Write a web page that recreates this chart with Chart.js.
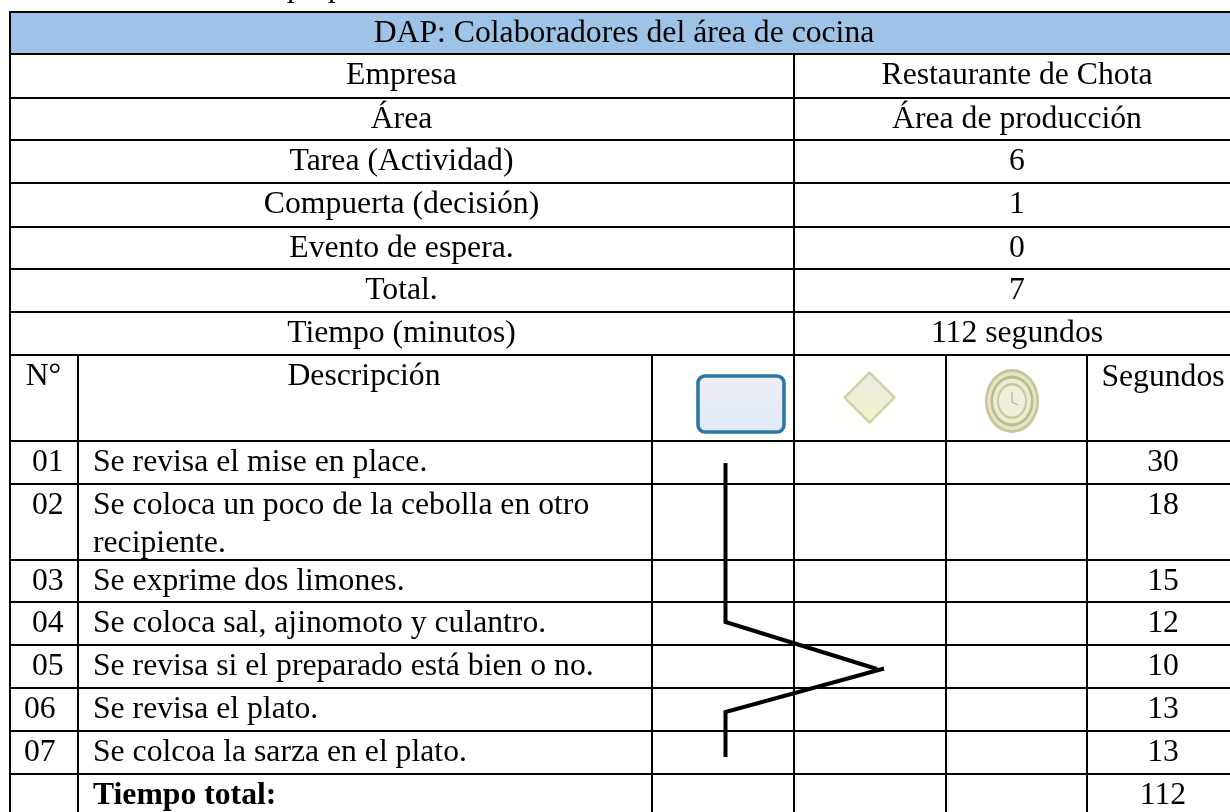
<!DOCTYPE html>
<html>
<head>
<meta charset="utf-8">
<style>
  html, body { margin: 0; padding: 0; background: #fff; overflow: hidden; }
  #wrap { width: 1230px; height: 812px; }
</style>
</head>
<body>
<div id="wrap"><canvas id="dapChart" width="1230" height="812"></canvas></div>
<script src="https://cdn.jsdelivr.net/npm/chart.js@4/dist/chart.umd.min.js"></script>
<script>
// data
const tableTitle = "DAP: Colaboradores del área de cocina";
const summaryLabels = ["Empresa", "Área", "Tarea (Actividad)", "Compuerta (decisión)", "Evento de espera.", "Total.", "Tiempo (minutos)"];
const summaryValues = ["Restaurante de Chota", "Área de producción", "6", "1", "0", "7", "112 segundos"];
const stepNumbers = ["01", "02", "03", "04", "05", "06", "07"];
const stepTexts = [
  ["Se revisa el mise en place."],
  ["Se coloca un poco de la cebolla en otro", "recipiente."],
  ["Se exprime dos limones."],
  ["Se coloca sal, ajinomoto y culantro."],
  ["Se revisa si el preparado está bien o no."],
  ["Se revisa el plato."],
  ["Se colcoa la sarza en el plato."]
];
const stepSeconds = ["30", "18", "15", "12", "10", "13", "13"];
const totalLabel = "Tiempo total:";
const totalSeconds = "112";

// flow line, in the same units as the axes
const flowUpperX = [725.5, 725.5, 877];
const flowUpperY = [463, 622, 669];
const flowLowerX = [884, 725.5, 725.5];
const flowLowerY = [668.5, 712, 757];

// table layout, the right side of the table runs past the page
const colEdges = [10, 78, 652, 794, 946, 1087, 1240];
const rowEdges = [12, 54, 98, 140, 183, 227, 269, 312, 355, 441, 484, 560, 602, 645, 688, 731, 774];
const fontSize = 31.7;
const fontName = "'Liberation Serif', serif";

function makeIcon(w, h, draw) {
  const c = document.createElement("canvas");
  c.width = w;
  c.height = h;
  const g = c.getContext("2d");
  g.filter = "blur(0.7px)";
  draw(g, w, h);
  return c;
}

const taskIcon = makeIcon(96, 70, function (g, w, h) {
  const grad = g.createLinearGradient(0, 0, 0, h);
  grad.addColorStop(0, "#eeeff3");
  grad.addColorStop(1, "#dfe9f8");
  g.fillStyle = grad;
  g.strokeStyle = "#2f76a8";
  g.lineWidth = 3.6;
  g.beginPath();
  g.roundRect(5, 7, w - 10, h - 14, 7);
  g.fill();
  g.stroke();
});

const gatewayIcon = makeIcon(80, 70, function (g, w, h) {
  g.fillStyle = "#fffffb";
  g.fillRect(4, 4, w - 14, h - 8);
  const grad = g.createLinearGradient(0, 10, 0, h - 10);
  grad.addColorStop(0, "#ecebe6");
  grad.addColorStop(1, "#f4f4cc");
  g.fillStyle = grad;
  g.strokeStyle = "#c8c8a0";
  g.lineWidth = 2;
  g.beginPath();
  g.moveTo(w / 2, h / 2 - 25);
  g.lineTo(w / 2 + 25, h / 2);
  g.lineTo(w / 2, h / 2 + 25);
  g.lineTo(w / 2 - 25, h / 2);
  g.closePath();
  g.fill();
  g.stroke();
});

const eventIcon = makeIcon(64, 72, function (g, w, h) {
  g.translate(w / 2, h / 2);
  const rings = [
    [27, 32, "#c6c49a"],
    [24.5, 29, "#e6e5c4"],
    [21.5, 25.5, "#bcbb8f"],
    [19, 22.5, "#ebebcf"],
    [15, 18, "#c9c8a0"],
    [13, 15.5, "#efefdc"]
  ];
  rings.forEach(function (ring) {
    g.fillStyle = ring[2];
    g.beginPath();
    g.ellipse(0, 0, ring[0], ring[1], 0, 0, Math.PI * 2);
    g.fill();
  });
  g.strokeStyle = "#a9a884";
  g.lineWidth = 1;
  g.beginPath();
  g.moveTo(0, -9);
  g.lineTo(0, 1);
  g.lineTo(6, 4);
  g.stroke();
});

// the table itself: grid and text, under the flow line
const tablePlugin = {
  id: "tablePlugin",
  beforeDatasetsDraw(chart) {
    const { ctx, scales } = chart;
    const X = (v) => scales.x.getPixelForValue(v);
    const Y = (v) => scales.y.getPixelForValue(v);
    const r = rowEdges;
    const c = colEdges;

    ctx.save();
    ctx.fillStyle = "#9dc3e6";
    ctx.fillRect(X(c[0]), Y(r[0]), X(c[6]) - X(c[0]), Y(r[1]) - Y(r[0]));

    // horizontal lines
    ctx.strokeStyle = "#000";
    ctx.lineWidth = 2;
    ctx.beginPath();
    r.forEach(function (v) {
      ctx.moveTo(X(c[0]) - 1, Y(v));
      ctx.lineTo(X(c[6]), Y(v));
    });
    // left side
    ctx.moveTo(X(c[0]), Y(r[0]));
    ctx.lineTo(X(c[0]), Y(812));
    // summary divider
    ctx.moveTo(X(c[3]), Y(r[1]));
    ctx.lineTo(X(c[3]), Y(r[8]));
    // detail columns
    c.slice(1, 6).forEach(function (v) {
      ctx.moveTo(X(v), Y(r[8]));
      ctx.lineTo(X(v), Y(812));
    });
    ctx.stroke();

    ctx.fillStyle = "#000";
    ctx.textBaseline = "alphabetic";

    // caption above the table, cut off by the top of the page
    ctx.textAlign = "left";
    ctx.font = "italic " + fontSize + "px " + fontName;
    ctx.fillText("p", X(289), Y(-4));
    ctx.fillText("p", X(330), Y(-4));

    ctx.font = fontSize + "px " + fontName;
    ctx.textAlign = "center";
    ctx.fillText(tableTitle, X(624), Y(r[0] + 30));
    summaryLabels.forEach(function (t, i) {
      ctx.fillText(t, X(401.5), Y(r[i + 1] + 29.5));
      ctx.fillText(summaryValues[i], X(1017), Y(r[i + 1] + 30));
    });

    ctx.fillText("N°", X(43.5), Y(r[8] + 30));
    ctx.fillText("Descripción", X(364), Y(r[8] + 30));
    ctx.fillText("Segundos", X(1163), Y(r[8] + 31));

    stepNumbers.forEach(function (t, i) {
      const top = r[i + 9];
      ctx.textAlign = "left";
      ctx.fillText(t, X(i < 5 ? 32 : 24), Y(top + 29.5));
      stepTexts[i].forEach(function (line, j) {
        ctx.fillText(line, X(93), Y(top + 29.5 + j * 38));
      });
      ctx.textAlign = "center";
      ctx.fillText(stepSeconds[i], X(1163), Y(top + 29.5));
    });

    ctx.textAlign = "left";
    ctx.font = "bold " + fontSize + "px " + fontName;
    ctx.fillText(totalLabel, X(93), Y(r[16] + 30));
    ctx.font = fontSize + "px " + fontName;
    ctx.textAlign = "center";
    ctx.fillText(totalSeconds, X(1163), Y(r[16] + 30));

    ctx.restore();
  }
};

function flowDataset(xs, ys) {
  return {
    data: xs.map((v, i) => ({ x: v, y: ys[i] })),
    showLine: true,
    borderColor: "#000",
    borderWidth: 4,
    borderJoinStyle: "miter",
    pointRadius: 0,
    tension: 0
  };
}

const chart = new Chart(document.getElementById("dapChart").getContext("2d"), {
  type: "scatter",
  data: {
    datasets: [
      flowDataset(flowUpperX, flowUpperY),
      flowDataset(flowLowerX, flowLowerY),
      {
        data: [{ x: 741, y: 404 }],
        pointStyle: taskIcon
      },
      {
        data: [{ x: 869.5, y: 397.5 }],
        pointStyle: gatewayIcon
      },
      {
        data: [{ x: 1012, y: 401 }],
        pointStyle: eventIcon
      }
    ]
  },
  options: {
    responsive: false,
    animation: false,
    layout: { padding: 0, autoPadding: false },
    scales: {
      x: { type: "linear", display: false, min: 0, max: 1230 },
      y: { type: "linear", display: false, min: 0, max: 812, reverse: true }
    },
    plugins: {
      legend: { display: false },
      tooltip: { enabled: false }
    }
  },
  plugins: [tablePlugin]
});
</script>
</body>
</html>
